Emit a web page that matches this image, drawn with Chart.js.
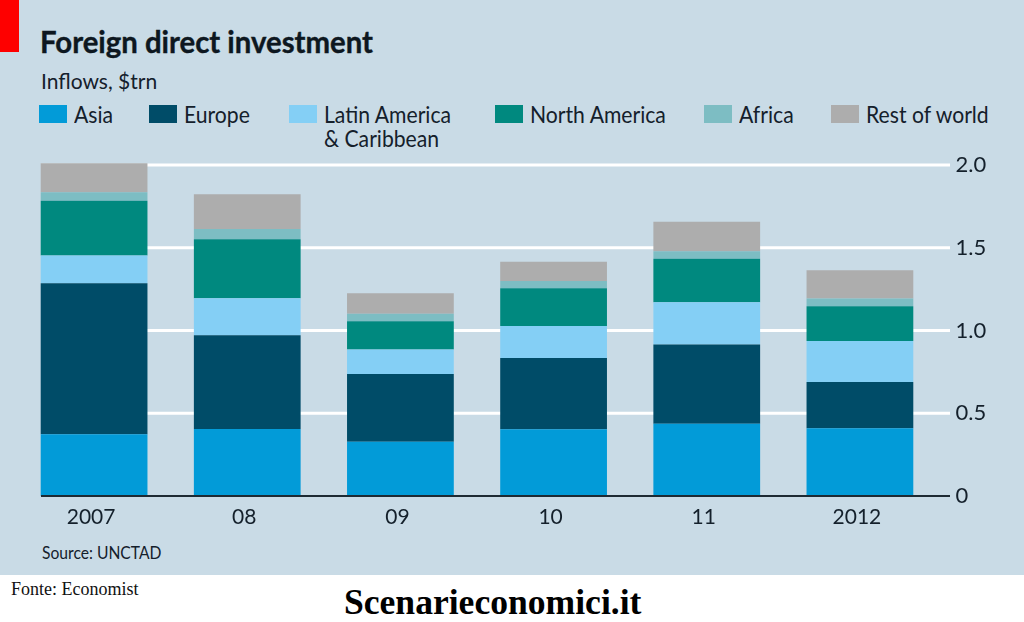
<!DOCTYPE html>
<html>
<head>
<meta charset="utf-8">
<script src="https://cdn.jsdelivr.net/npm/chart.js@4/dist/chart.umd.min.js"></script>
<style>
  html, body { margin: 0; padding: 0; background: #fff; }
  #page { position: relative; width: 1024px; height: 622px; overflow: hidden; background: #fff; font-family: Lato, sans-serif; color: #14202b; }
  #panel { position: absolute; left: 0; top: 0; width: 1024px; height: 575px; background: #c9dbe6; }
  #redbox { position: absolute; left: 0; top: 0; width: 19px; height: 52px; background: #fe0000; }
  canvas { position: absolute; left: 0; top: 0; }
  .txt { position: absolute; white-space: nowrap; transform-origin: left top; }
  #title { left: 40px; top: 22px; font-size: 31px; font-weight: 700; color: #0d1720; transform: scaleX(0.946); -webkit-text-stroke: 0.4px #0d1720; }
  #sub { left: 41px; top: 68px; font-size: 21px; }
  #source { left: 42px; top: 542px; font-size: 17px; transform: scaleX(0.92); }
  #fonte { left: 11px; top: 579px; font: 18px "Liberation Serif", serif; color: #111; }
  #site { left: 344px; top: 581px; font: bold 35.6px "Liberation Serif", serif; color: #000; }
  .swatch { position: absolute; top: 105px; width: 28px; height: 18px; }
  .leg { position: absolute; top: 102px; font-size: 23px; line-height: 24px; white-space: pre; transform: scaleX(0.92); transform-origin: left top; }
</style>
</head>
<body>
<div id="page">
  <div id="panel"></div>
  <div id="redbox"></div>
  <div class="txt" id="title">Foreign direct investment</div>
  <div class="txt" id="sub">Inflows, $trn</div>
  <div id="legend"></div>
  <div class="txt" id="source">Source: UNCTAD</div>
  <div class="txt" id="fonte">Fonte: Economist</div>
  <div class="txt" id="site">Scenarieconomici.it</div>
  <canvas id="chart" width="1024" height="622"></canvas>
</div>
<script>
// data ($trn)
var years = ["2007", "08", "09", "10", "11", "2012"];
var asia = [0.373, 0.405, 0.328, 0.403, 0.437, 0.409];
var europe = [0.913, 0.566, 0.41, 0.431, 0.478, 0.28];
var latinAmerica = [0.167, 0.224, 0.147, 0.194, 0.256, 0.248];
var northAmerica = [0.332, 0.357, 0.171, 0.228, 0.262, 0.21];
var africa = [0.051, 0.062, 0.046, 0.044, 0.046, 0.046];
var restOfWorld = [0.175, 0.21, 0.123, 0.115, 0.179, 0.171];
var yTicks = [0, 0.5, 1, 1.5, 2];

var seriesNames = ["Asia", "Europe", "Latin America\n& Caribbean", "North America", "Africa", "Rest of world"];
var seriesValues = [asia, europe, latinAmerica, northAmerica, africa, restOfWorld];
var seriesColors = ["#029bd8", "#004c68", "#84cff5", "#00897f", "#7dbdc3", "#adadad"];
var legendLeft = [39, 149, 289, 495, 704, 831];

// legend
var legendBox = document.getElementById("legend");
seriesNames.forEach(function (name, i) {
  var sw = document.createElement("div");
  sw.className = "swatch";
  sw.style.left = legendLeft[i] + "px";
  sw.style.background = seriesColors[i];
  legendBox.appendChild(sw);
  var lab = document.createElement("div");
  lab.className = "leg";
  lab.style.left = legendLeft[i] + 35 + "px";
  lab.textContent = name;
  legendBox.appendChild(lab);
});

// white lines run past the bars on both sides, so they are drawn here
var linesPlugin = {
  id: "lines",
  beforeDatasetsDraw: function (chart) {
    var y = chart.scales.y;
    var c = chart.ctx;
    c.save();
    c.strokeStyle = "#ffffff";
    c.lineWidth = 3;
    yTicks.forEach(function (t) {
      if (t === 0) return;
      c.beginPath();
      c.moveTo(41, y.getPixelForValue(t));
      c.lineTo(950, y.getPixelForValue(t));
      c.stroke();
    });
    c.restore();
  },
  afterDatasetsDraw: function (chart) {
    var y = chart.scales.y;
    var c = chart.ctx;
    c.save();
    c.strokeStyle = "#1d2a33";
    c.lineWidth = 2;
    c.beginPath();
    c.moveTo(41, y.getPixelForValue(0));
    c.lineTo(950, y.getPixelForValue(0));
    c.stroke();
    c.restore();
  }
};

var chart = new Chart(document.getElementById("chart").getContext("2d"), {
  type: "bar",
  data: {
    labels: years,
    datasets: seriesValues.map(function (vals, i) {
      return { label: seriesNames[i], data: vals, backgroundColor: seriesColors[i], borderWidth: 0 };
    })
  },
  options: {
    responsive: false,
    animation: false,
    events: [],
    layout: { padding: { left: 17.5, top: 148.5, right: 0, bottom: 0 } },
    plugins: { legend: { display: false }, tooltip: { enabled: false } },
    scales: {
      x: {
        stacked: true,
        categoryPercentage: 1,
        grid: { display: false },
        border: { display: false },
        ticks: { color: "#14202b", font: { family: "Lato", size: 21 }, padding: 1, labelOffset: -3, maxRotation: 0 },
        afterFit: function (scale) { scale.height = 126; }
      },
      y: {
        stacked: true,
        position: "right",
        min: 0,
        max: 2.1,
        grid: { display: false },
        border: { display: false },
        afterBuildTicks: function (scale) {
          scale.ticks = yTicks.map(function (v) { return { value: v }; });
        },
        ticks: {
          color: "#14202b",
          font: { family: "Lato", size: 22 },
          padding: 11,
          crossAlign: "near",
          callback: function (v) { return v === 0 ? "0" : v.toFixed(1); }
        },
        afterFit: function (scale) { scale.width = 87.5; }
      }
    },
    datasets: { bar: { barPercentage: 0.697, categoryPercentage: 1 } }
  },
  plugins: [linesPlugin]
});
</script>
</body>
</html>
